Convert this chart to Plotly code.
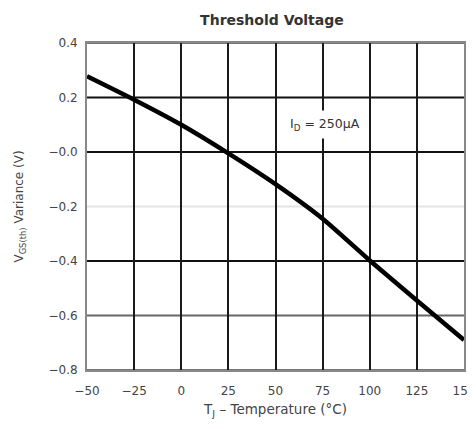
import plotly.graph_objects as go

temperature = [-50, -25, 0, 25, 50, 75, 100, 125, 150]
variance = [0.278, 0.192, 0.100, -0.005, -0.118, -0.245, -0.398, -0.545, -0.690]

x_ticks = [-50, -25, 0, 25, 50, 75, 100, 125, 150]
x_ticktext = ["\u221250", "\u221225", "0", "25", "50", "75", "100", "125", "150"]
y_ticks = [-0.8, -0.6, -0.4, -0.2, 0.0, 0.2, 0.4]
y_ticktext = ["\u22120.8", "\u22120.6", "\u22120.4", "\u22120.2", "\u22120.0", "0.2", "0.4"]
y_grid_colors = ["#777", "#666", "#111", "#e4e4e4", "#111", "#111", "#777"]

font = "DejaVu Sans, Arial, sans-serif"

fig = go.Figure()

for yv, col in zip(y_ticks, y_grid_colors):
    fig.add_shape(type="line", xref="paper", x0=0, x1=1, yref="y", y0=yv, y1=yv,
                  line=dict(color=col, width=2), layer="below")

fig.add_trace(go.Scatter(x=temperature, y=variance, mode="lines",
                         line=dict(color="black", width=4.5, shape="spline", smoothing=0.6),
                         showlegend=False, hoverinfo="skip"))

fig.update_layout(
    width=468, height=421,
    margin=dict(l=79, r=12, t=35, b=59),
    paper_bgcolor="white", plot_bgcolor="white",
    font=dict(family=font, color="#444", size=12),
    title=dict(text="<b>Threshold Voltage</b>", x=0.564, xanchor="center",
               y=0.971, yanchor="middle", font=dict(size=14, color="#333", family=font)),
    xaxis=dict(range=[-50, 150], tickvals=x_ticks, ticktext=x_ticktext,
               showgrid=True, gridcolor="#1a1a1a", gridwidth=2,
               showline=True, linecolor="#888", linewidth=2, mirror=True,
               zeroline=False, ticks="", ticklabelstandoff=9, automargin=False,
               tickfont=dict(size=12, color="#444"),
               title=dict(text="T<sub>J</sub> \u2013 Temperature (\u00b0C)", standoff=7,
                          font=dict(size=13.5, color="#444"))),
    yaxis=dict(range=[-0.8, 0.4], tickvals=y_ticks, ticktext=y_ticktext,
               showgrid=False,
               showline=True, linecolor="#888", linewidth=2, mirror=True,
               zeroline=False, ticks="", ticklabelstandoff=5, automargin=False,
               tickfont=dict(size=12, color="#444"),
               title=dict(text="V<sub>GS(th)</sub> Variance (V)", standoff=22,
                          font=dict(size=12, color="#444"))),
)

fig.add_annotation(x=76, y=0.1, xref="x", yref="y",
                   text="I<sub>D</sub> = 250\u00b5A", showarrow=False,
                   bgcolor="white", borderpad=5,
                   font=dict(size=12.5, color="#333", family=font))

fig.write_html("out.html")
